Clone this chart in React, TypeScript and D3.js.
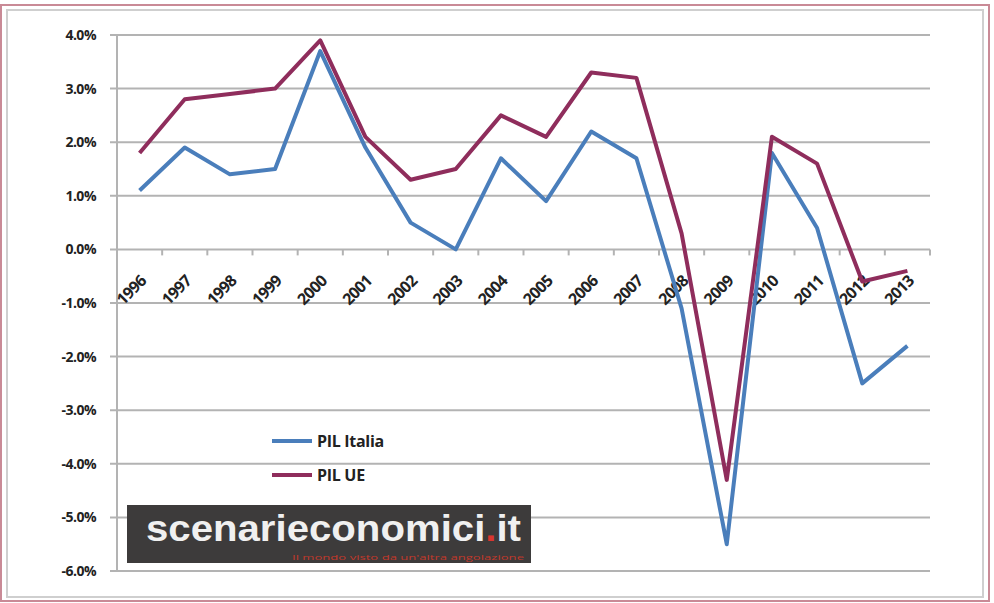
import * as d3 from "d3";

const years = ["1996", "1997", "1998", "1999", "2000", "2001", "2002", "2003", "2004", "2005", "2006", "2007", "2008", "2009", "2010", "2011", "2012", "2013"];
const pilItalia = [1.1, 1.9, 1.4, 1.5, 3.7, 1.9, 0.5, 0.0, 1.7, 0.9, 2.2, 1.7, -1.1, -5.5, 1.8, 0.4, -2.5, -1.8];
const pilUE = [1.8, 2.8, 2.9, 3.0, 3.9, 2.1, 1.3, 1.5, 2.5, 2.1, 3.3, 3.2, 0.3, -4.3, 2.1, 1.6, -0.6, -0.4];
const yTicks = [4, 3, 2, 1, 0, -1, -2, -3, -4, -5, -6];

const W = 994;
const H = 603;
const left = 117;
const right = 930;
const top = 35;
const bottom = 571;

const BLUE = "#4a7ebb";
const RED = "#8f2d5c";
const FONT = "'Open Sans', 'Liberation Sans', sans-serif";

const App = () => {
  const x = d3.scaleBand<string>().domain(years).range([left, right]);
  const y = d3.scaleLinear().domain([-6, 4]).range([bottom, top]);
  const cx = (i: number) => (x(years[i]) as number) + x.bandwidth() / 2;

  const line = d3
    .line<number>()
    .x((_, i) => cx(i))
    .y((d) => y(d));

  return (
    <svg width={W} height={H} style={{ position: "absolute", left: 0, top: 0, background: "#fff" }}>
      {/* cornice */}
      <rect x={1} y={5} width={988} height={596} fill="none" stroke="#c98a96" strokeWidth={2} />
      <rect x={7} y={10} width={976} height={587} fill="#fff" stroke="#cfcfcf" strokeWidth={2} />

      {/* griglia */}
      {yTicks.map((t) => (
        <g key={t}>
          <line x1={left - 7} x2={right} y1={y(t)} y2={y(t)} stroke="#b3b3b3" strokeWidth={2} />
          <text
            x={left - 21}
            y={y(t) + 5}
            textAnchor="end"
            fontFamily={FONT}
            fontWeight="bold"
            fontSize={14}
            letterSpacing={-0.5}
            fill="#222"
          >
            {t.toFixed(1) + "%"}
          </text>
        </g>
      ))}
      <line x1={left} x2={left} y1={top} y2={bottom} stroke="#b3b3b3" strokeWidth={2} />

      {/* tacche asse x */}
      {years.map((yr) => (
        <line
          key={"t" + yr}
          x1={(x(yr) as number) + x.bandwidth()}
          x2={(x(yr) as number) + x.bandwidth()}
          y1={y(0)}
          y2={y(0) + 6}
          stroke="#b3b3b3"
          strokeWidth={2}
        />
      ))}

      {/* etichette anni */}
      {years.map((yr, i) => (
        <text
          key={yr}
          transform={`translate(${cx(i) - 2},${y(0) + 23}) rotate(-45)`}
          textAnchor="end"
          dominantBaseline="hanging"
          fontFamily={FONT}
          fontWeight="bold"
          fontSize={16}
          letterSpacing={-0.7}
          fill="#222"
        >
          {yr}
        </text>
      ))}

      {/* serie */}
      <path d={line(pilItalia) as string} fill="none" stroke={BLUE} strokeWidth={4} strokeLinejoin="round" />
      <path d={line(pilUE) as string} fill="none" stroke={RED} strokeWidth={4} strokeLinejoin="round" />

      {/* legenda */}
      <line x1={272} x2={312} y1={441} y2={441} stroke={BLUE} strokeWidth={4} />
      <text x={317} y={447} fontFamily={FONT} fontWeight="bold" fontSize={16} letterSpacing={-0.3} fill="#222">
        PIL Italia
      </text>
      <line x1={272} x2={312} y1={475} y2={475} stroke={RED} strokeWidth={4} />
      <text x={317} y={481} fontFamily={FONT} fontWeight="bold" fontSize={16} letterSpacing={-0.3} fill="#222">
        PIL UE
      </text>

      {/* marchio */}
      <rect x={127} y={505} width={404} height={58} fill="#3d3b3b" />
      <text
        x={146}
        y={541}
        textLength={375}
        lengthAdjust="spacingAndGlyphs"
        fontFamily="'Liberation Sans', Arial, sans-serif"
        fontWeight="bold"
        fontSize={37}
        fill="#f0f0f0"
      >
        scenarieconomici<tspan fill="#d9362f">.</tspan>it
      </text>
      <text
        x={524}
        y={560}
        textAnchor="end"
        textLength={232}
        lengthAdjust="spacingAndGlyphs"
        fontFamily={FONT}
        fontSize={7}
        fill="#c0392b"
      >
        Il mondo visto da un'altra angolazione
      </text>
    </svg>
  );
};

export default App;
